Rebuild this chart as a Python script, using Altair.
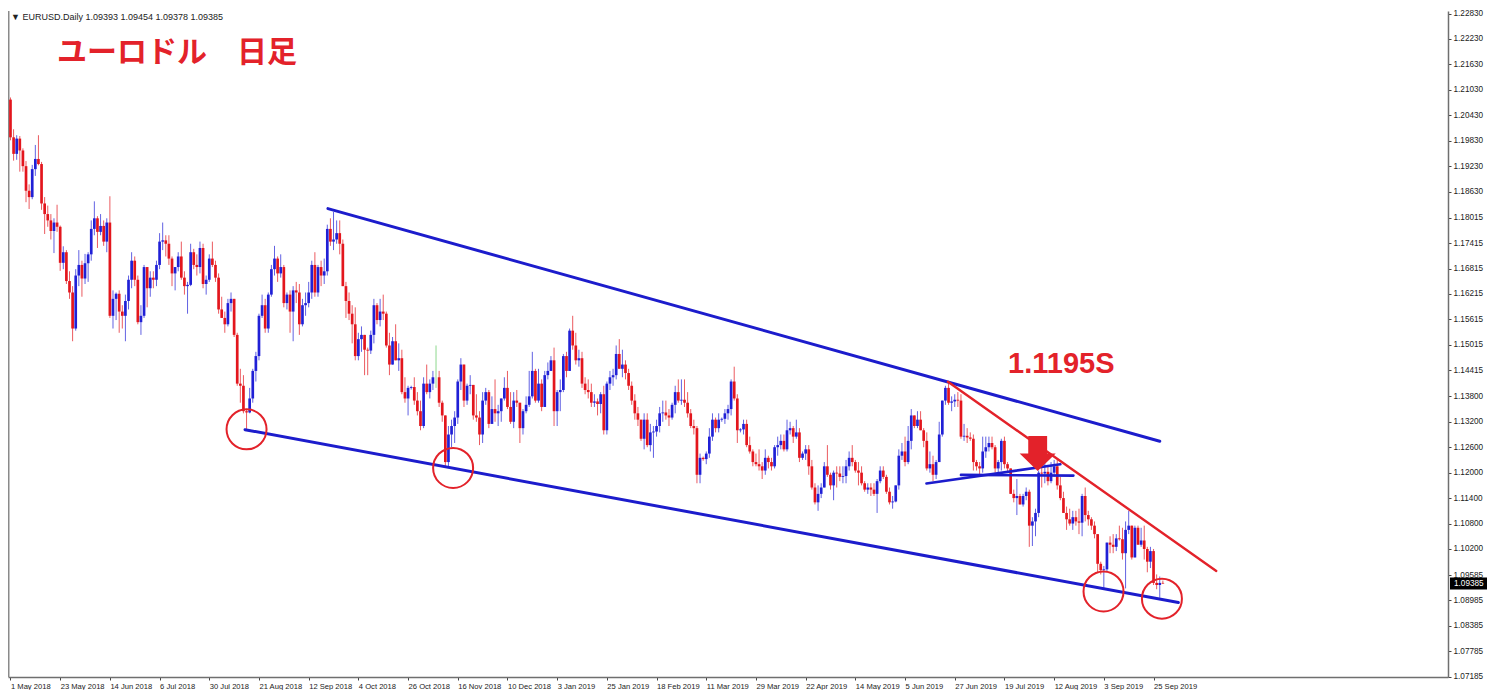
import altair as alt
import pandas as pd

# ---------------- data ----------------
FIRST_OPEN = 1.2080

# May 2018 .. Sep 2019, one value per daily bar (close / high / low)
CLOSE = [
    # May 2018
    1.1991, 1.1952, 1.1988, 1.1960, 1.1923, 1.1865, 1.1850, 1.1916, 1.1940, 1.1928, 1.1835, 1.1810,
    1.1795, 1.1770, 1.1790, 1.1780, 1.1695, 1.1720, 1.1652, 1.1625, 1.1540, 1.1665, 1.1690,
    # Jun 2018
    1.1658, 1.1694, 1.1715, 1.1775, 1.1800, 1.1768, 1.1782, 1.1745, 1.1790, 1.1570, 1.1610, 1.1622,
    1.1580, 1.1570, 1.1605, 1.1655, 1.1700, 1.1655, 1.1555, 1.1570, 1.1685,
    # Jul 2018
    1.1635, 1.1660, 1.1655, 1.1690, 1.1745, 1.1748, 1.1740, 1.1705, 1.1670, 1.1685, 1.1710, 1.1660,
    1.1640, 1.1643, 1.1720, 1.1690, 1.1685, 1.1730, 1.1645, 1.1655, 1.1705, 1.1690,
    # Aug 2018
    1.1660, 1.1585, 1.1565, 1.1550, 1.1600, 1.1610, 1.1525, 1.1410, 1.1405, 1.1345, 1.1342, 1.1375,
    1.1440, 1.1475, 1.1570, 1.1595, 1.1540, 1.1620, 1.1680, 1.1705, 1.1670, 1.1685, 1.1600,
    # Sep 2018
    1.1620, 1.1580, 1.1630, 1.1625, 1.1550, 1.1595, 1.1600, 1.1625, 1.1690, 1.1625, 1.1685, 1.1665,
    1.1675, 1.1775, 1.1745, 1.1750, 1.1765, 1.1740, 1.1640, 1.1605,
    # Oct 2018
    1.1575, 1.1550, 1.1475, 1.1515, 1.1525, 1.1490, 1.1488, 1.1525, 1.1595, 1.1560, 1.1580, 1.1575,
    1.1500, 1.1455, 1.1510, 1.1465, 1.1470, 1.1390, 1.1375, 1.1400, 1.1402, 1.1370, 1.1345, 1.1310,
    # Nov 2018
    1.1410, 1.1390, 1.1410, 1.1425, 1.1425, 1.1365, 1.1335, 1.1225, 1.1290, 1.1310, 1.1330, 1.1415,
    1.1455, 1.1370, 1.1405, 1.1407, 1.1335, 1.1330, 1.1290, 1.1370, 1.1390, 1.1315,
    # Dec 2018
    1.1350, 1.1340, 1.1345, 1.1375, 1.1400, 1.1355, 1.1320, 1.1370, 1.1365, 1.1305, 1.1345, 1.1360,
    1.1380, 1.1440, 1.1370, 1.1410, 1.1355, 1.1430, 1.1440, 1.1465,
    # Jan 2019
    1.1345, 1.1390, 1.1395, 1.1475, 1.1440, 1.1535, 1.1500, 1.1465, 1.1470, 1.1410, 1.1395, 1.1390,
    1.1365, 1.1368, 1.1362, 1.1385, 1.1300, 1.1410, 1.1425, 1.1430, 1.1480, 1.1445,
    # Feb 2019
    1.1455, 1.1435, 1.1405, 1.1370, 1.1340, 1.1325, 1.1280, 1.1325, 1.1265, 1.1295, 1.1297, 1.1310,
    1.1340, 1.1342, 1.1335, 1.1330, 1.1360, 1.1390, 1.1370, 1.1372,
    # Mar 2019
    1.1365, 1.1340, 1.1310, 1.1305, 1.1195, 1.1235, 1.1232, 1.1245, 1.1285, 1.1325, 1.1305, 1.1325,
    1.1327, 1.1340, 1.1350, 1.1415, 1.1375, 1.1300, 1.1302, 1.1315, 1.1265, 1.1250, 1.1225, 1.1220,
    # Apr 2019
    1.1215, 1.1205, 1.1235, 1.1225, 1.1215, 1.1260, 1.1265, 1.1275, 1.1255, 1.1300, 1.1305, 1.1285,
    1.1295, 1.1235, 1.1245, 1.1255, 1.1215, 1.1165, 1.1130, 1.1150, 1.1165, 1.1215,
    # May 2019
    1.1195, 1.1170, 1.1200, 1.1198, 1.1190, 1.1192, 1.1215, 1.1235, 1.1225, 1.1205, 1.1200, 1.1175,
    1.1160, 1.1165, 1.1160, 1.1150, 1.1180, 1.1205, 1.1190, 1.1155, 1.1130, 1.1132, 1.1170,
    # Jun 2019
    1.1240, 1.1250, 1.1225, 1.1275, 1.1335, 1.1310, 1.1325, 1.1300, 1.1275, 1.1210, 1.1220, 1.1195,
    1.1225, 1.1290, 1.1370, 1.1400, 1.1365, 1.1368, 1.1372, 1.1370,
    # Jul 2019
    1.1285, 1.1287, 1.1283, 1.1280, 1.1225, 1.1215, 1.1210, 1.1250, 1.1260, 1.1270, 1.1260, 1.1210,
    1.1225, 1.1275, 1.1220, 1.1210, 1.1150, 1.1140, 1.1145, 1.1125, 1.1145, 1.1155, 1.1075,
    # Aug 2019
    1.1085, 1.1105, 1.1200, 1.1198, 1.1202, 1.1180, 1.1200, 1.1215, 1.1170, 1.1140, 1.1105, 1.1090,
    1.1080, 1.1095, 1.1085, 1.1082, 1.1145, 1.1100, 1.1090, 1.1075, 1.1055, 1.0985,
    # Sep 2019
    1.0970, 1.0972, 1.1035, 1.1030, 1.1025, 1.1045, 1.1043, 1.1010, 1.1065, 1.1075, 1.1000, 1.1070,
    1.1030, 1.1040, 1.1020, 1.0990, 1.1015, 1.0940, 1.0935, 1.0940, 1.09385,
]

HIGH = [
    # May 2018
    1.2085, 1.2010, 1.1996, 1.1994, 1.1965, 1.1935, 1.1880, 1.1926, 1.1973, 1.1996, 1.1933, 1.1850,
    1.1830, 1.1810, 1.1800, 1.1832, 1.1783, 1.1734, 1.1725, 1.1675, 1.1640, 1.1680, 1.1725,
    # Jun 2018
    1.1700, 1.1716, 1.1720, 1.1795, 1.1840, 1.1805, 1.1810, 1.1795, 1.1800, 1.1852, 1.1630, 1.1625,
    1.1630, 1.1595, 1.1620, 1.1665, 1.1720, 1.1710, 1.1665, 1.1595, 1.1690,
    # Jul 2018
    1.1685, 1.1675, 1.1675, 1.1700, 1.1765, 1.1790, 1.1760, 1.1760, 1.1710, 1.1685, 1.1720, 1.1745,
    1.1675, 1.1650, 1.1740, 1.1728, 1.1715, 1.1745, 1.1740, 1.1665, 1.1715, 1.1745,
    # Aug 2018
    1.1700, 1.1670, 1.1615, 1.1580, 1.1610, 1.1625, 1.1610, 1.1530, 1.1445, 1.1430, 1.1350, 1.1400,
    1.1445, 1.1485, 1.1575, 1.1620, 1.1610, 1.1625, 1.1690, 1.1735, 1.1710, 1.1715, 1.1690,
    # Sep 2018
    1.1625, 1.1630, 1.1640, 1.1650, 1.1645, 1.1610, 1.1625, 1.1650, 1.1700, 1.1720, 1.1690, 1.1700,
    1.1705, 1.1785, 1.1800, 1.1815, 1.1795, 1.1795, 1.1750, 1.1650,
    # Oct 2018
    1.1625, 1.1595, 1.1590, 1.1530, 1.1545, 1.1515, 1.1495, 1.1535, 1.1610, 1.1600, 1.1610, 1.1620,
    1.1580, 1.1530, 1.1520, 1.1550, 1.1505, 1.1490, 1.1425, 1.1405, 1.1405, 1.1425, 1.1390, 1.1370,
    # Nov 2018
    1.1425, 1.1455, 1.1420, 1.1440, 1.1500, 1.1440, 1.1370, 1.1335, 1.1310, 1.1325, 1.1345, 1.1420,
    1.1470, 1.1455, 1.1410, 1.1430, 1.1405, 1.1385, 1.1345, 1.1390, 1.1400, 1.1395,
    # Dec 2018
    1.1380, 1.1420, 1.1360, 1.1375, 1.1425, 1.1440, 1.1390, 1.1390, 1.1395, 1.1365, 1.1350, 1.1380,
    1.1440, 1.1485, 1.1445, 1.1445, 1.1420, 1.1440, 1.1460, 1.1475,
    # Jan 2019
    1.1495, 1.1395, 1.1420, 1.1480, 1.1485, 1.1540, 1.1570, 1.1530, 1.1490, 1.1485, 1.1425, 1.1420,
    1.1410, 1.1385, 1.1375, 1.1390, 1.1405, 1.1415, 1.1440, 1.1445, 1.1500, 1.1515,
    # Feb 2019
    1.1490, 1.1465, 1.1445, 1.1415, 1.1385, 1.1355, 1.1325, 1.1340, 1.1340, 1.1315, 1.1310, 1.1325,
    1.1355, 1.1370, 1.1370, 1.1350, 1.1365, 1.1405, 1.1420, 1.1420,
    # Mar 2019
    1.1420, 1.1390, 1.1350, 1.1325, 1.1310, 1.1245, 1.1238, 1.1250, 1.1305, 1.1340, 1.1330, 1.1340,
    1.1330, 1.1350, 1.1360, 1.1420, 1.1450, 1.1385, 1.1305, 1.1325, 1.1325, 1.1285, 1.1255, 1.1245,
    # Apr 2019
    1.1255, 1.1225, 1.1255, 1.1240, 1.1235, 1.1265, 1.1285, 1.1290, 1.1290, 1.1325, 1.1320, 1.1310,
    1.1325, 1.1305, 1.1250, 1.1265, 1.1265, 1.1230, 1.1175, 1.1170, 1.1175, 1.1225,
    # May 2019
    1.1265, 1.1200, 1.1205, 1.1215, 1.1215, 1.1215, 1.1230, 1.1250, 1.1265, 1.1230, 1.1225, 1.1215,
    1.1180, 1.1175, 1.1175, 1.1175, 1.1185, 1.1215, 1.1215, 1.1195, 1.1165, 1.1145, 1.1170,
    # Jun 2019
    1.1255, 1.1270, 1.1285, 1.1310, 1.1350, 1.1335, 1.1345, 1.1345, 1.1305, 1.1295, 1.1250, 1.1240,
    1.1230, 1.1320, 1.1370, 1.1405, 1.1410, 1.1380, 1.1385, 1.1390,
    # Jul 2019
    1.1385, 1.1315, 1.1305, 1.1295, 1.1290, 1.1230, 1.1225, 1.1285, 1.1285, 1.1285, 1.1285, 1.1265,
    1.1230, 1.1280, 1.1285, 1.1225, 1.1210, 1.1160, 1.1185, 1.1150, 1.1150, 1.1165, 1.1160,
    # Aug 2019
    1.1095, 1.1115, 1.1205, 1.1250, 1.1230, 1.1215, 1.1225, 1.1230, 1.1230, 1.1190, 1.1155, 1.1120,
    1.1115, 1.1110, 1.1110, 1.1115, 1.1150, 1.1165, 1.1110, 1.1095, 1.1085, 1.1055,
    # Sep 2019
    1.0990, 1.0980, 1.1035, 1.1050, 1.1055, 1.1055, 1.1075, 1.1070, 1.1085, 1.1110, 1.1075, 1.1075,
    1.1075, 1.1070, 1.1075, 1.1025, 1.1025, 1.1020, 1.0960, 1.0955, 1.09454,
]

LOW = [
    # May 2018
    1.1984, 1.1936, 1.1938, 1.1910, 1.1910, 1.1838, 1.1822, 1.1845, 1.1900, 1.1925, 1.1820, 1.1763,
    1.1780, 1.1750, 1.1718, 1.1768, 1.1676, 1.1680, 1.1645, 1.1610, 1.1510, 1.1535, 1.1640,
    # Jun 2018
    1.1615, 1.1645, 1.1650, 1.1700, 1.1760, 1.1730, 1.1760, 1.1735, 1.1720, 1.1565, 1.1540, 1.1560,
    1.1530, 1.1540, 1.1510, 1.1585, 1.1635, 1.1640, 1.1550, 1.1525, 1.1565,
    # Jul 2018
    1.1590, 1.1615, 1.1635, 1.1640, 1.1680, 1.1725, 1.1710, 1.1690, 1.1640, 1.1630, 1.1675, 1.1655,
    1.1620, 1.1575, 1.1640, 1.1680, 1.1665, 1.1670, 1.1635, 1.1620, 1.1650, 1.1685,
    # Aug 2018
    1.1650, 1.1575, 1.1565, 1.1530, 1.1545, 1.1580, 1.1520, 1.1405, 1.1365, 1.1340, 1.1300, 1.1340,
    1.1365, 1.1415, 1.1465, 1.1565, 1.1530, 1.1530, 1.1615, 1.1665, 1.1650, 1.1660, 1.1590,
    # Sep 2018
    1.1585, 1.1530, 1.1510, 1.1600, 1.1525, 1.1545, 1.1570, 1.1590, 1.1610, 1.1615, 1.1615, 1.1640,
    1.1645, 1.1665, 1.1735, 1.1725, 1.1740, 1.1715, 1.1640, 1.1565,
    # Oct 2018
    1.1560, 1.1505, 1.1465, 1.1465, 1.1485, 1.1430, 1.1430, 1.1480, 1.1505, 1.1550, 1.1545, 1.1560,
    1.1495, 1.1430, 1.1455, 1.1465, 1.1440, 1.1385, 1.1365, 1.1335, 1.1396, 1.1360, 1.1335, 1.1300,
    # Nov 2018
    1.1305, 1.1385, 1.1375, 1.1395, 1.1400, 1.1355, 1.1320, 1.1215, 1.1215, 1.1260, 1.1270, 1.1315,
    1.1395, 1.1355, 1.1360, 1.1385, 1.1325, 1.1320, 1.1265, 1.1270, 1.1360, 1.1305,
    # Dec 2018
    1.1320, 1.1320, 1.1310, 1.1320, 1.1370, 1.1350, 1.1315, 1.1305, 1.1355, 1.1270, 1.1290, 1.1340,
    1.1355, 1.1375, 1.1365, 1.1365, 1.1345, 1.1360, 1.1420, 1.1440,
    # Jan 2019
    1.1310, 1.1310, 1.1345, 1.1390, 1.1425, 1.1455, 1.1490, 1.1455, 1.1450, 1.1400, 1.1385, 1.1375,
    1.1355, 1.1355, 1.1335, 1.1340, 1.1290, 1.1290, 1.1395, 1.1405, 1.1420, 1.1445,
    # Feb 2019
    1.1425, 1.1420, 1.1395, 1.1360, 1.1325, 1.1310, 1.1275, 1.1255, 1.1260, 1.1250, 1.1235, 1.1285,
    1.1295, 1.1320, 1.1325, 1.1310, 1.1325, 1.1340, 1.1365, 1.1360,
    # Mar 2019
    1.1355, 1.1330, 1.1305, 1.1290, 1.1175, 1.1175, 1.1228, 1.1220, 1.1235, 1.1275, 1.1295, 1.1295,
    1.1320, 1.1315, 1.1325, 1.1335, 1.1370, 1.1270, 1.1295, 1.1290, 1.1260, 1.1245, 1.1215, 1.1215,
    # Apr 2019
    1.1205, 1.1185, 1.1195, 1.1210, 1.1205, 1.1210, 1.1240, 1.1255, 1.1250, 1.1250, 1.1290, 1.1270,
    1.1280, 1.1225, 1.1230, 1.1230, 1.1195, 1.1160, 1.1125, 1.1110, 1.1140, 1.1165,
    # May 2019
    1.1190, 1.1160, 1.1135, 1.1165, 1.1180, 1.1175, 1.1175, 1.1205, 1.1215, 1.1200, 1.1170, 1.1170,
    1.1155, 1.1150, 1.1145, 1.1145, 1.1105, 1.1175, 1.1185, 1.1150, 1.1125, 1.1115, 1.1130,
    # Jun 2019
    1.1160, 1.1230, 1.1215, 1.1220, 1.1255, 1.1305, 1.1305, 1.1300, 1.1260, 1.1205, 1.1200, 1.1180,
    1.1185, 1.1225, 1.1285, 1.1360, 1.1360, 1.1345, 1.1355, 1.1355,
    # Jul 2019
    1.1280, 1.1275, 1.1270, 1.1275, 1.1205, 1.1205, 1.1195, 1.1200, 1.1235, 1.1250, 1.1255, 1.1200,
    1.1200, 1.1205, 1.1210, 1.1200, 1.1150, 1.1130, 1.1100, 1.1125, 1.1120, 1.1135, 1.1025,
    # Aug 2019
    1.1027, 1.1050, 1.1095, 1.1165, 1.1175, 1.1170, 1.1175, 1.1190, 1.1160, 1.1135, 1.1105, 1.1065,
    1.1075, 1.1065, 1.1075, 1.1055, 1.1050, 1.1085, 1.1075, 1.1065, 1.1045, 1.0965,
    # Sep 2019
    1.0960, 1.0926, 1.0965, 1.1010, 1.1010, 1.1015, 1.1040, 1.0995, 1.0927, 1.1055, 1.0995, 1.1005,
    1.1030, 1.1025, 1.0995, 1.0965, 1.0975, 1.0935, 1.0925, 1.0905, 1.09378,
]

assert len(CLOSE) == len(HIGH) == len(LOW) == 372, (len(CLOSE), len(HIGH), len(LOW))

X_LABELS = ["1 May 2018", "23 May 2018", "14 Jun 2018", "6 Jul 2018", "30 Jul 2018", "21 Aug 2018",
            "12 Sep 2018", "4 Oct 2018", "26 Oct 2018", "16 Nov 2018", "10 Dec 2018", "3 Jan 2019",
            "25 Jan 2019", "18 Feb 2019", "11 Mar 2019", "29 Mar 2019", "22 Apr 2019", "14 May 2019",
            "5 Jun 2019", "27 Jun 2019", "19 Jul 2019", "12 Aug 2019", "3 Sep 2019", "25 Sep 2019"]
BARS_PER_LABEL = 16

Y_TICKS = [1.22830, 1.22230, 1.21630, 1.21030, 1.20430, 1.19830, 1.19230, 1.18630, 1.18015,
           1.17415, 1.16815, 1.16215, 1.15615, 1.15015, 1.14415, 1.13800, 1.13200, 1.12600,
           1.12000, 1.11400, 1.10800, 1.10200, 1.09585, 1.08985, 1.08385, 1.07785, 1.07185]

# drawn annotations (bar index, price)
SEG_KIND = ["channel", "channel", "red", "neck", "neck"]
SEG_X1 = [102.2, 75.5, 301.8, 294.9, 306.0]
SEG_Y1 = [1.18229, 1.13014, 1.14143, 1.11744, 1.11947]
SEG_X2 = [370.0, 376.0, 388.2, 338.0, 342.2]
SEG_Y2 = [1.12741, 1.08935, 1.09682, 1.12197, 1.11931]

CIRCLE_X = [76.0, 142.5, 351.9, 370.7]
CIRCLE_Y = [1.13022, 1.12111, 1.09198, 1.09028]

ARROW_X = [330.7]
ARROW_Y = [1.12450]

NOTE_TEXT = ["1.1195S"]
NOTE_X = [338.3]
NOTE_Y = [1.14563]

LAST_PRICE = 1.09385
HEADER = "\u25BC EURUSD.Daily  1.09393 1.09454 1.09378 1.09385"
TITLE = "ユーロドル\u3000日足"

# ---------------- build ----------------
opens = [FIRST_OPEN] + CLOSE[:-1]
rows = []
for i, (o, h, l, c) in enumerate(zip(opens, HIGH, LOW, CLOSE)):
    if abs(c - o) < 1e-7:
        d = "doji"
    elif c > o:
        d = "up"
    else:
        d = "down"
    rows.append(dict(i=i, o=o, h=max(h, o, c), l=min(l, o, c), c=c, dir=d))
bars = pd.DataFrame(rows)

segs = pd.DataFrame(dict(kind=SEG_KIND, x1=SEG_X1, y1=SEG_Y1, x2=SEG_X2, y2=SEG_Y2))
circles = pd.DataFrame(dict(x=CIRCLE_X, y=CIRCLE_Y))
arrow = pd.DataFrame(dict(x=ARROW_X, y=ARROW_Y))
note = pd.DataFrame(dict(t=NOTE_TEXT, x=NOTE_X, y=NOTE_Y))
tag = pd.DataFrame(dict(p=[LAST_PRICE], lo=[LAST_PRICE - 0.0014], hi=[LAST_PRICE + 0.0014],
                        t=[f"{LAST_PRICE:.5f}"]))

W, H = 1440, 666
BLUE = "#2020d6"
RED = "#e3161d"
GREEN = "#5cc85c"
LINE_BLUE = "#1c1ccc"
LINE_RED = "#e3222a"

XS = alt.Scale(domain=[-0.8, 462.8], nice=False, zero=False)
YS = alt.Scale(domain=[1.07180, 1.22890], nice=False, zero=False)

label_expr = "[" + ",".join(f"'{s}'" for s in X_LABELS) + f"][round(datum.value / {BARS_PER_LABEL})]"
XAX = alt.Axis(values=[k * BARS_PER_LABEL for k in range(len(X_LABELS))], labelExpr=label_expr,
               title=None, grid=False, orient="bottom", labelAlign="left", labelBaseline="top",
               labelPadding=2, tickSize=3, tickColor="#444", domainColor="#6f6f6f", domainWidth=1.5,
               labelFont="Liberation Sans", labelFontSize=7.6, labelColor="#222",
               labelOverlap=False, labelFlush=False, labelBound=False)
YAX = alt.Axis(values=Y_TICKS, format=".5f", title=None, grid=False, orient="right",
               tickSize=3, tickColor="#444", domainColor="#6f6f6f", domainWidth=1.5,
               labelFont="Liberation Sans", labelFontSize=8.2, labelColor="#222", labelPadding=2,
               labelOverlap=False, labelFlush=False, labelBound=False)

color_dir = alt.Color("dir:N", scale=alt.Scale(domain=["up", "down", "doji"], range=[BLUE, RED, GREEN]),
                      legend=None)

base = alt.Chart(bars)
wicks = base.mark_rule(strokeWidth=1, opacity=0.7).encode(
    x=alt.X("i:Q", scale=XS, axis=XAX),
    y=alt.Y("l:Q", scale=YS, axis=YAX),
    y2="h:Q",
    color=color_dir,
)
bodies = base.mark_rule(strokeWidth=2.7).encode(
    x=alt.X("i:Q", scale=XS, axis=XAX),
    y=alt.Y("o:Q", scale=YS, axis=YAX),
    y2="c:Q",
    color=color_dir,
)


def seg_layer(kind, color, width):
    return alt.Chart(segs).transform_filter(alt.datum.kind == kind).mark_rule(
        strokeCap="round", color=color, strokeWidth=width
    ).encode(
        x=alt.X("x1:Q", scale=XS, axis=XAX),
        x2="x2:Q",
        y=alt.Y("y1:Q", scale=YS, axis=YAX),
        y2="y2:Q",
    )


channel_lines = seg_layer("channel", LINE_BLUE, 3)
neck_lines = seg_layer("neck", LINE_BLUE, 2.6)
red_line = seg_layer("red", LINE_RED, 2.4)

rings = alt.Chart(circles).mark_point(shape="circle", filled=False, size=1600, strokeWidth=2,
                                      color=LINE_RED, opacity=1).encode(
    x=alt.X("x:Q", scale=XS, axis=XAX),
    y=alt.Y("y:Q", scale=YS, axis=YAX),
)

arrow_path = "M-0.54,-1L0.54,-1L0.54,0L1.03,0L0,1L-1.03,0L-0.54,0Z"
arrow_mark = alt.Chart(arrow).mark_point(shape=arrow_path, filled=True, size=1225,
                                         color=LINE_RED, opacity=1, strokeWidth=0).encode(
    x=alt.X("x:Q", scale=XS, axis=XAX),
    y=alt.Y("y:Q", scale=YS, axis=YAX),
)

note_mark = alt.Chart(note).mark_text(font="Liberation Sans", fontSize=29, fontWeight="bold",
                                      color=LINE_RED, align="center", baseline="middle").encode(
    x=alt.X("x:Q", scale=XS, axis=XAX),
    y=alt.Y("y:Q", scale=YS, axis=YAX),
    text="t:N",
)

tag_rect = alt.Chart(tag).mark_rect(color="#000000").encode(
    x=alt.value(W + 2), x2=alt.value(W + 39),
    y=alt.Y("lo:Q", scale=YS, axis=YAX), y2="hi:Q",
)
tag_text = alt.Chart(tag).mark_text(font="Liberation Sans", fontSize=8.2, color="#ffffff",
                                    align="left", baseline="middle").encode(
    x=alt.value(W + 6),
    y=alt.Y("p:Q", scale=YS, axis=YAX),
    text="t:N",
)

left_border = alt.Chart(tag).mark_rule(color="#8a8a8a", strokeWidth=1.5).encode(
    x=alt.value(0.75), y=alt.value(0), y2=alt.value(H)
)

header = alt.Chart(tag).mark_text(font="Liberation Sans", fontSize=9, color="#222", align="left",
                                  baseline="middle").encode(
    x=alt.value(3), y=alt.value(6), text=alt.value(HEADER)
)
title = alt.Chart(tag).mark_text(font="Noto Sans CJK JP", fontSize=30, fontWeight="bold",
                                 color=LINE_RED, align="left", baseline="middle").encode(
    x=alt.value(49), y=alt.value(42), text=alt.value(TITLE)
)

chart = alt.layer(
    left_border, wicks, bodies, channel_lines, neck_lines, red_line, rings, arrow_mark, note_mark,
    tag_rect, tag_text, header, title
).properties(
    width=W, height=H, padding=0, background="#ffffff"
).configure_view(stroke=None)

chart.save("out.html", embed_options={"renderer": "svg", "actions": False})
